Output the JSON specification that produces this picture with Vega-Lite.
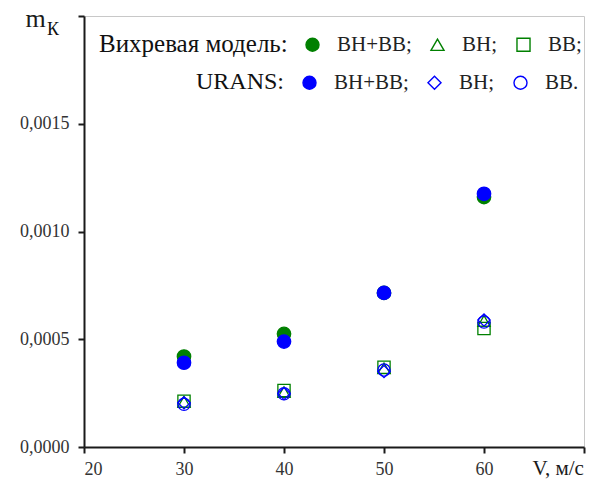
{
  "$schema": "https://vega.github.io/schema/vega-lite/v6.json",
  "width": 500,
  "height": 431,
  "autosize": {"type": "none"},
  "padding": {"left": 84, "top": 16, "right": 14, "bottom": 37},
  "background": "white",
  "config": {
    "font": "Liberation Serif",
    "view": {"stroke": "#c8c8c8", "strokeWidth": 1},
    "axis": {"grid": false, "domainColor": "#1a1a1a", "domainWidth": 2, "tickColor": "#1a1a1a", "tickWidth": 2, "tickSize": 6, "labelFont": "Liberation Serif", "labelFontSize": 18, "labelColor": "#333333", "titleFont": "Liberation Serif", "titleFontWeight": "normal", "titleColor": "#1a1a1a"},
    "legend": {"orient": "none", "direction": "horizontal", "titleOrient": "left", "titleFont": "Liberation Serif", "titleFontSize": 25, "titleFontWeight": "normal", "titleColor": "#111111", "titlePadding": 14, "titleBaseline": "middle", "titleLimit": 400, "labelFont": "Liberation Serif", "labelFontSize": 21, "labelColor": "#222222", "labelOffset": 14, "columnPadding": 15, "symbolSize": 170, "symbolStrokeWidth": 1.4}
  },
  "title": {"text": "К", "anchor": "start", "frame": "group", "orient": "top", "dx": -37, "offset": -48, "baseline": "alphabetic", "fontSize": 18, "fontWeight": "normal", "font": "Liberation Serif", "color": "#111111"},
  "data": {"values": [
    {"V": 30, "m": 0.00042, "method": "vortex", "type": "ВН+ВВ"},
    {"V": 40, "m": 0.000525, "method": "vortex", "type": "ВН+ВВ"},
    {"V": 50, "m": 0.000715, "method": "vortex", "type": "ВН+ВВ"},
    {"V": 60, "m": 0.00116, "method": "vortex", "type": "ВН+ВВ"},
    {"V": 30, "m": 0.00021, "method": "vortex", "type": "ВН"},
    {"V": 40, "m": 0.000255, "method": "vortex", "type": "ВН"},
    {"V": 50, "m": 0.000365, "method": "vortex", "type": "ВН"},
    {"V": 60, "m": 0.000585, "method": "vortex", "type": "ВН"},
    {"V": 30, "m": 0.000212, "method": "vortex", "type": "ВВ"},
    {"V": 40, "m": 0.000262, "method": "vortex", "type": "ВВ"},
    {"V": 50, "m": 0.00037, "method": "vortex", "type": "ВВ"},
    {"V": 60, "m": 0.00055, "method": "vortex", "type": "ВВ"},
    {"V": 30, "m": 0.000391, "method": "urans", "type": "ВН+ВВ"},
    {"V": 40, "m": 0.000489, "method": "urans", "type": "ВН+ВВ"},
    {"V": 50, "m": 0.000715, "method": "urans", "type": "ВН+ВВ"},
    {"V": 60, "m": 0.001175, "method": "urans", "type": "ВН+ВВ"},
    {"V": 30, "m": 0.000205, "method": "urans", "type": "ВН"},
    {"V": 40, "m": 0.000248, "method": "urans", "type": "ВН"},
    {"V": 50, "m": 0.00035, "method": "urans", "type": "ВН"},
    {"V": 60, "m": 0.000589, "method": "urans", "type": "ВН"},
    {"V": 30, "m": 0.000198, "method": "urans", "type": "ВВ"},
    {"V": 40, "m": 0.000247, "method": "urans", "type": "ВВ"},
    {"V": 50, "m": 0.000357, "method": "urans", "type": "ВВ"},
    {"V": 60, "m": 0.00058, "method": "urans", "type": "ВВ"}
  ]},
  "encoding": {
    "x": {"field": "V", "type": "quantitative", "scale": {"domain": [20, 70], "nice": false, "zero": false},
      "axis": {"values": [20, 30, 40, 50, 60, 70], "labelExpr": "datum.value == 70 ? '' : datum.label", "labelFont": "Liberation Serif", "labelFontSize": 18, "labelPadding": 7, "title": "V, м/с", "titleFont": "Liberation Serif", "titleFontSize": 21, "titleX": 448, "titleY": 27, "titleAlign": "left", "titleBaseline": "alphabetic", "titleAnchor": null}},
    "y": {"field": "m", "type": "quantitative", "scale": {"domain": [0, 0.002], "nice": false},
      "axis": {"values": [0, 0.0005, 0.001, 0.0015, 0.002], "labelExpr": "datum.value > 0.0019 ? '' : replace(format(datum.value, '.4f'), '.', ',')", "labelFont": "Liberation Serif", "labelFontSize": 18, "labelPadding": 9, "title": "m", "titleFont": "Liberation Serif", "titleFontSize": 26, "titleAngle": 0, "titleX": -59, "titleY": 10, "titleAlign": "left", "titleBaseline": "alphabetic", "titleAnchor": null}}
  },
  "layer": [
    {
      "transform": [{"filter": "datum.method == 'vortex'"}],
      "mark": {"type": "point", "filled": false, "stroke": "#008000", "strokeWidth": 1.3, "opacity": 1},
      "encoding": {
        "shape": {"field": "type", "type": "nominal", "scale": {"domain": ["ВН+ВВ", "ВН", "ВВ"], "range": ["circle", "triangle-up", "square"]},
          "legend": {"title": "Вихревая модель:", "legendX": 15, "legendY": 18, "titleFont": "Liberation Serif", "titleFontSize": 25, "titleLimit": 400, "labelFont": "Liberation Serif", "labelFontSize": 21, "labelExpr": "datum.label + ';'",
            "encode": {"symbols": {"update": {"stroke": {"value": "#008000"}, "strokeWidth": {"value": 1.4}, "opacity": {"value": 1}}}}}},
        "fill": {"field": "type", "type": "nominal", "scale": {"domain": ["ВН+ВВ", "ВН", "ВВ"], "range": ["#008000", "transparent", "transparent"]},
          "legend": {"title": "Вихревая модель:", "legendX": 15, "legendY": 18, "titleFont": "Liberation Serif", "titleFontSize": 25, "titleLimit": 400, "labelFont": "Liberation Serif", "labelFontSize": 21, "labelExpr": "datum.label + ';'",
            "encode": {"symbols": {"update": {"stroke": {"value": "#008000"}, "strokeWidth": {"value": 1.4}, "opacity": {"value": 1}}}}}},
        "size": {"condition": {"test": "datum.type == 'ВН+ВВ'", "value": 180}, "value": 150}
      }
    },
    {
      "transform": [{"filter": "datum.method == 'urans'"}],
      "mark": {"type": "point", "filled": false, "stroke": "#0000ff", "strokeWidth": 1.3, "opacity": 1},
      "encoding": {
        "shape": {"field": "type", "type": "nominal", "scale": {"domain": ["ВН+ВВ", "ВН", "ВВ"], "range": ["circle", "diamond", "circle"]},
          "legend": {"title": "URANS:", "legendX": 112, "legendY": 56, "titleFont": "Liberation Serif", "titleFontSize": 24, "titleLimit": 400, "labelFont": "Liberation Serif", "labelFontSize": 21, "labelExpr": "datum.label == 'ВВ' ? 'ВВ.' : datum.label + ';'",
            "encode": {"symbols": {"update": {"stroke": {"value": "#0000ff"}, "strokeWidth": {"value": 1.4}, "opacity": {"value": 1}}}}}},
        "fill": {"field": "type", "type": "nominal", "scale": {"domain": ["ВН+ВВ", "ВН", "ВВ"], "range": ["#0000ff", "transparent", "transparent"]},
          "legend": {"title": "URANS:", "legendX": 112, "legendY": 56, "titleFont": "Liberation Serif", "titleFontSize": 24, "titleLimit": 400, "labelFont": "Liberation Serif", "labelFontSize": 21, "labelExpr": "datum.label == 'ВВ' ? 'ВВ.' : datum.label + ';'",
            "encode": {"symbols": {"update": {"stroke": {"value": "#0000ff"}, "strokeWidth": {"value": 1.4}, "opacity": {"value": 1}}}}}},
        "size": {"condition": {"test": "datum.type == 'ВН+ВВ'", "value": 180}, "value": 150}
      }
    }
  ],
  "resolve": {"scale": {"shape": "independent", "fill": "independent", "size": "independent"}}
}
